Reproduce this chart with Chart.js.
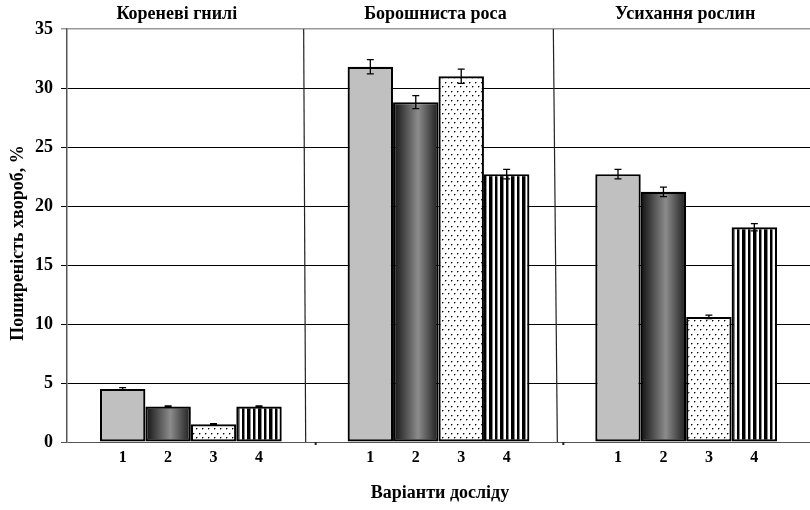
<!DOCTYPE html>
<html>
<head>
<meta charset="utf-8">
<script src="https://cdn.jsdelivr.net/npm/chart.js@4"></script>
<style>
  body { margin: 0; background: #fff; }
  #wrap { width: 810px; height: 510px; }
</style>
</head>
<body>
<div id="wrap"><canvas id="chart" width="810" height="510"></canvas></div>
<script>
// data
const groups = ['Кореневі гнилі', 'Борошниста роса', 'Усихання рослин'];
const variants = ['1', '2', '3', '4'];
const v1 = [4.5, 31.8, 22.7];
const v2 = [3.0, 28.8, 21.2];
const v3 = [1.5, 31.0, 10.6];
const v4 = [3.0, 22.7, 18.2];
const err1 = [0.1, 0.6, 0.4];
const err2 = [0.05, 0.55, 0.4];
const err3 = [0.05, 0.6, 0.15];
const err4 = [0.05, 0.4, 0.3];
const yTicks = [0, 5, 10, 15, 20, 25, 30, 35];
const yTitle = 'Поширеність хвороб, %';
const xTitle = 'Варіанти досліду';

const FONT = "'Liberation Serif', 'Times New Roman', serif";
const catPct = 0.734;

// patterns for bars 3 and 4
function makePattern(w, h, draw) {
  const c = document.createElement('canvas');
  c.width = w; c.height = h;
  const g = c.getContext('2d');
  draw(g);
  return g.createPattern(c, 'repeat');
}
const dots = makePattern(6, 9, g => {
  g.fillStyle = '#fff'; g.fillRect(0, 0, 6, 9);
  g.fillStyle = '#000';
  g.fillRect(1, 1, 1, 1);
  g.fillRect(4, 5, 1, 1);
  g.fillStyle = '#999';
  g.fillRect(2, 1, 1, 1);
  g.fillRect(5, 5, 1, 1);
  g.fillRect(1, 2, 1, 1);
  g.fillRect(4, 6, 1, 1);
});
const stripes = makePattern(11, 4, g => {
  g.fillStyle = '#fff'; g.fillRect(0, 0, 11, 4);
  g.fillStyle = '#000';
  g.fillRect(0, 0, 2, 4);
  g.fillRect(5, 0, 3, 4);
  g.fillStyle = '#888';
  g.fillRect(2, 0, 1, 4);
  g.fillRect(8, 0, 1, 4);
});

// cylinder-like shading for bar 2, placed from the x scale
function shaded(ctx) {
  const chart = ctx.chart;
  const xs = chart.scales.x;
  if (!chart.chartArea || !xs || ctx.dataIndex === undefined) return '#555';
  const groupW = xs.width / groups.length;
  const barW = groupW * catPct / 4;
  const center = xs.getPixelForValue(ctx.dataIndex);
  const left = center - groupW * catPct / 2 + ctx.datasetIndex * barW;
  const gr = chart.ctx.createLinearGradient(left, 0, left + barW, 0);
  gr.addColorStop(0, '#111');
  gr.addColorStop(0.55, '#8c8c8c');
  gr.addColorStop(1, '#1c1c1c');
  return gr;
}

const errors = [err1, err2, err3, err4];
const titleShift = [-14, -3, -1];

const decor = {
  id: 'decor',
  beforeDatasetsDraw(chart) {
    const { ctx, chartArea: a, scales: { x } } = chart;
    const groupW = x.width / groups.length;
    ctx.save();
    // slanted group separators
    ctx.strokeStyle = '#222';
    ctx.lineWidth = 1.2;
    const offs = [[-11, -9], [-9, -5]];
    for (let i = 1; i < groups.length; i++) {
      const b = x.getPixelForValue(i) - groupW / 2;
      ctx.beginPath();
      ctx.moveTo(b + offs[i - 1][0], a.top);
      ctx.lineTo(b + offs[i - 1][1], a.bottom);
      ctx.stroke();
      // tick below axis
      ctx.fillStyle = '#222';
      ctx.fillRect(b, a.bottom, 2, 3);
    }
    ctx.restore();
  },
  afterDatasetsDraw(chart) {
    const { ctx, chartArea: a, scales: { x, y } } = chart;
    ctx.save();
    ctx.strokeStyle = '#000';
    ctx.lineWidth = 1.3;
    ctx.fillStyle = '#000';
    ctx.textAlign = 'center';
    ctx.textBaseline = 'middle';
    ctx.font = 'bold 16px ' + FONT;
    chart.data.datasets.forEach((ds, di) => {
      const meta = chart.getDatasetMeta(di);
      meta.data.forEach((el, i) => {
        const e = errors[di][i];
        const v = ds.data[i];
        const yt = y.getPixelForValue(v + e);
        const yb = y.getPixelForValue(v - e);
        ctx.beginPath();
        ctx.moveTo(el.x, yt); ctx.lineTo(el.x, yb);
        ctx.moveTo(el.x - 3.5, yt); ctx.lineTo(el.x + 3.5, yt);
        ctx.moveTo(el.x - 3.5, yb); ctx.lineTo(el.x + 3.5, yb);
        ctx.stroke();
        ctx.fillText(variants[di], el.x, a.bottom + 16);
      });
    });
    ctx.font = 'bold 18px ' + FONT;
    groups.forEach((g, i) => {
      ctx.fillText(g, x.getPixelForValue(i) + titleShift[i], 14);
    });
    ctx.fillText(xTitle, 440, 493);
    ctx.translate(18, 243);
    ctx.rotate(-Math.PI / 2);
    ctx.fillText(yTitle, 0, 0);
    ctx.restore();
  }
};

const common = { borderColor: '#000', borderWidth: 2.2, borderSkipped: false,
  barPercentage: 1, categoryPercentage: catPct };

new Chart(document.getElementById('chart'), {
  type: 'bar',
  data: {
    labels: groups,
    datasets: [
      { label: variants[0], data: v1, backgroundColor: '#c0c0c0', ...common },
      { label: variants[1], data: v2, backgroundColor: shaded, ...common },
      { label: variants[2], data: v3, backgroundColor: dots, ...common },
      { label: variants[3], data: v4, backgroundColor: stripes, ...common }
    ]
  },
  options: {
    responsive: false,
    animation: false,
    layout: { padding: { top: 29, bottom: 68, left: 0, right: 0 } },
    plugins: { legend: { display: false }, tooltip: { enabled: false } },
    scales: {
      x: { display: false },
      y: {
        min: 0, max: 35,
        afterBuildTicks: s => { s.ticks = yTicks.map(v => ({ value: v })); },
        afterFit: s => { s.width = 67; },
        border: { color: '#555', width: 1.5 },
        grid: {
          color: c => c.tick && c.tick.value === 35 ? '#999' : (c.tick && c.tick.value === 0 ? '#555' : '#000'),
          lineWidth: c => c.tick && c.tick.value === 35 ? 1.5 : 1,
          tickLength: 6
        },
        ticks: { color: '#000', padding: 8, font: { family: FONT, size: 18, weight: 'bold' } }
      }
    }
  },
  plugins: [decor]
});
</script>
</body>
</html>
